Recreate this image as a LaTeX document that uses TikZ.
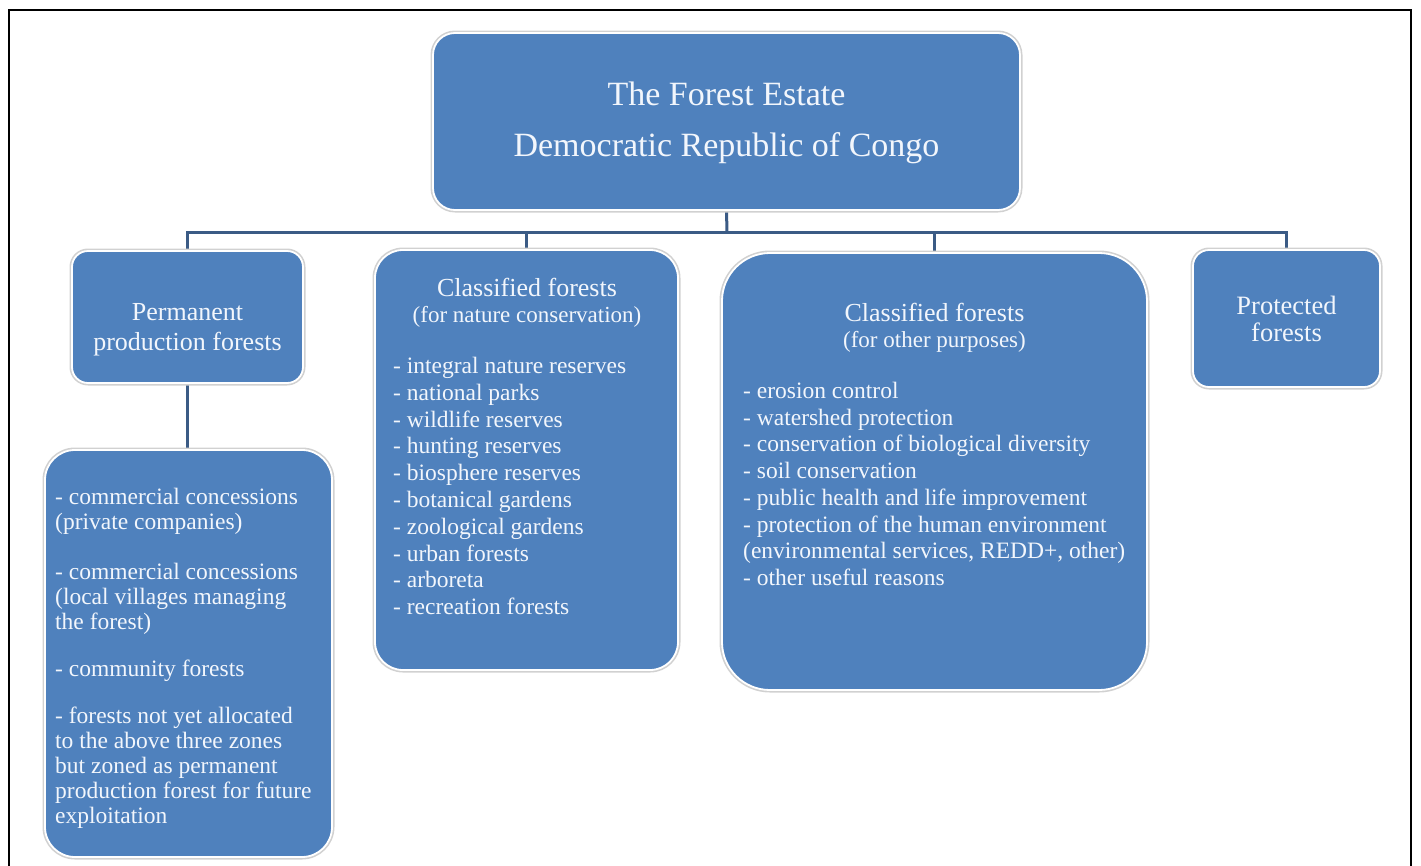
\documentclass[tikz,border=0pt]{standalone}
\usepackage{fontspec}
\setmainfont{Liberation Serif}
\usetikzlibrary{backgrounds}
\definecolor{boxblue}{HTML}{4F81BD}
\definecolor{txtcol}{HTML}{F2F6FC}
\definecolor{conncol}{HTML}{3B5B85}
\tikzset{
  box/.style={rectangle, fill=boxblue, draw=white, line width=1.8pt,
    preaction={draw=black!18, line width=5pt}, inner sep=0pt},
  lbl/.style={text=txtcol, inner sep=0pt},
  link/.style={draw=conncol, line width=3pt},
  frameline/.style={draw=black, line width=2.5pt}
}
\begin{document}
\begin{tikzpicture}[x=1pt,y=-1pt]
\useasboundingbox (0,0) rectangle (1421,865);
\begin{scope}
  \clip (0,0) rectangle (1421,865);
  \draw[frameline] (9,10) rectangle (1411,900);
\end{scope}

% boxes
\node[box, rounded corners=22pt, minimum width=587pt, minimum height=177pt] (top) at (726.5,121.5) {};
\node[box, rounded corners=16pt, minimum width=231pt, minimum height=132pt] (pp) at (187.5,317) {};
\node[box, rounded corners=30pt, minimum width=287pt, minimum height=407pt] (ppl) at (188.5,653.5) {};
\node[box, rounded corners=28pt, minimum width=303pt, minimum height=420pt] (nc) at (526.5,460) {};
\node[box, rounded corners=48pt, minimum width=425pt, minimum height=437pt] (op) at (934.5,471.5) {};
\node[box, rounded corners=16pt, minimum width=187pt, minimum height=137pt] (pr) at (1286.5,318.5) {};

% connectors
\coordinate (bus) at (727,232);
\begin{scope}[on background layer]
  \draw[link] (top.south) -- (bus);
  \draw[link] (pp.north) |- (bus);
  \draw[link] (nc.north) |- (bus);
  \draw[link] (op.north) |- (bus);
  \draw[link] (pr.north) |- (bus);
  \draw[link] (pp.south) -- (pp.south |- ppl.north);
\end{scope}

% texts
\node[lbl, align=center, font=\fontsize{34}{51}\selectfont] (toptxt) at (726.5,123)
  {The Forest Estate\\Democratic Republic of Congo};

\node[lbl, align=center, font=\fontsize{26}{30}\selectfont] (pptxt) at (187.5,330)
  {Permanent\\production forests};

\node[lbl, anchor=north west, align=left, font=\fontsize{23.5}{25}\selectfont] (ppltxt) at (55,487.5)
  {- commercial concessions\\(private companies)\\[25pt]%
   - commercial concessions\\(local villages managing\\the forest)\\[22pt]%
   - community forests\\[22pt]%
   - forests not yet allocated\\to the above three zones\\but zoned as permanent\\production forest for future\\exploitation};

\node[lbl, font=\fontsize{26}{30}\selectfont] (nct1) at (527,287) {Classified forests};
\node[lbl, font=\fontsize{23}{27}\selectfont] (nct2) at (527,317) {(for nature conservation)};
\node[lbl, anchor=north west, align=left, font=\fontsize{23.5}{26.8}\selectfont] (nclist) at (393,357)
  {- integral nature reserves\\- national parks\\- wildlife reserves\\- hunting reserves\\%
   - biosphere reserves\\- botanical gardens\\- zoological gardens\\- urban forests\\%
   - arboreta\\- recreation forests};

\node[lbl, font=\fontsize{26}{30}\selectfont] (opt1) at (934.5,312) {Classified forests};
\node[lbl, font=\fontsize{23}{27}\selectfont] (opt2) at (934.5,342) {(for other purposes)};
\node[lbl, anchor=north west, align=left, font=\fontsize{23.5}{26.7}\selectfont] (oplist) at (743,382)
  {- erosion control\\- watershed protection\\- conservation of biological diversity\\%
   - soil conservation\\- public health and life improvement\\%
   - protection of the human environment\\(environmental services, REDD+, other)\\%
   - other useful reasons};

\node[lbl, align=center, font=\fontsize{26.5}{27}\selectfont] (prtxt) at (1286.5,318.5)
  {Protected\\forests};
\end{tikzpicture}
\end{document}
